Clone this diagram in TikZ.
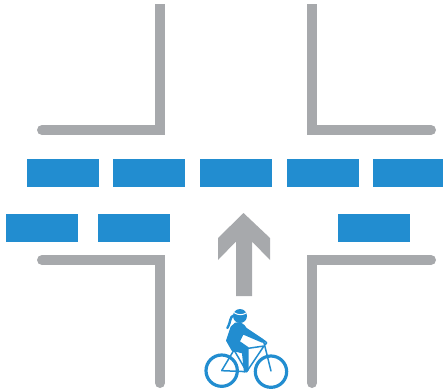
\documentclass[tikz,border=0pt]{standalone}
\usepackage{xcolor}
\definecolor{curbgray}{HTML}{A7A9AC}
\definecolor{laneblue}{HTML}{228DD0}
\tikzset{
    curb/.style={draw=curbgray, line width=10pt},
    curbend/.style={fill=curbgray},
    lanebar/.style={fill=laneblue},
    frameline/.style={draw=laneblue, line width=1.5pt, line join=round, line cap=round},
    wheelline/.style={draw=laneblue, line width=3.2pt},
}
\begin{document}
\begin{tikzpicture}[x=1pt, y=-1pt]
    \useasboundingbox (0,0) rectangle (443,391);

    % curbs
    \draw[curb] (160,4) -- (160,130) -- (42,130);
    \fill[curbend] (42,130) circle (5pt);
    \draw[curb] (312,4) -- (312,130) -- (431,130);
    \fill[curbend] (431,130) circle (5pt);
    \draw[curb] (42,260) -- (160,260) -- (160,383);
    \fill[curbend] (42,260) circle (5pt);
    \fill[curbend] (160,383) circle (5pt);
    \draw[curb] (431,260) -- (312,260) -- (312,383);
    \fill[curbend] (431,260) circle (5pt);
    \fill[curbend] (312,383) circle (5pt);

    % lane bars
    \foreach \x/\w in {27/72, 113/72, 200/72, 287/72, 373/70}
        \fill[lanebar] (\x,159) rectangle ++(\w,28);
    \foreach \x in {6, 98, 338}
        \fill[lanebar] (\x,214) rectangle ++(72,28);

    % arrow
    \fill[curbgray] (243.5,213) -- (270,238) -- (270,260) -- (252,241.5) -- (252,296)
        -- (236,296) -- (236,241.5) -- (218,260) -- (218,238) -- cycle;

    % cyclist
    \begin{scope}[shift={(190,300)}, x=0.3333pt, y=-0.3333pt]
        \draw[wheelline] (95,212) circle (47);
        \draw[wheelline] (243,215) circle (47);
        % frame
        \draw[frameline] (95,212) -- (170,215) -- (132,150) -- cycle;
        \draw[frameline] (140,150) -- (222,138) -- (170,215);
        \draw[frameline] (243,213) -- (222,128) -- (212,120);
        \draw[frameline] (222,122) -- (230,128) -- (226,134);
        % rider
        \fill[laneblue] (135,68) .. controls (150,64) and (162,70) .. (170,84)
            -- (218,116) -- (226,122) -- (216,128) -- (160,104) -- (150,124)
            -- (176,142) -- (176,212) -- (162,218) -- (156,160)
            -- (125,152) -- (108,122) -- (122,80) -- cycle;
        % head and ponytail
        \fill[laneblue] (150,48) circle (21);
        \draw[white, line width=1pt] (132,38) .. controls (145,46) and (158,46) .. (170,38);
        \draw[laneblue, line width=2.4pt, line cap=round] (132,46) .. controls (118,50) and (124,64) .. (112,84);
    \end{scope}
\end{tikzpicture}
\end{document}
